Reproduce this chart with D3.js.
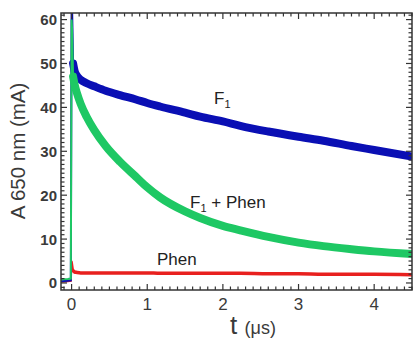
<!DOCTYPE html>
<html>
<head>
<meta charset="utf-8">
<script src="https://cdn.jsdelivr.net/npm/d3@7"></script>
<style>
  body { margin: 0; background: #fff; }
  text { font-family: "Liberation Sans", Arial, sans-serif; }
</style>
</head>
<body>
<svg id="chart" width="416" height="339"></svg>
<script>
var width = 416;
var height = 339;

// time axis (µs) shared by all traces
var times = [-0.14, -0.05, -0.01, 0.0, 0.006, 0.02, 0.04, 0.07, 0.12, 0.2, 0.3, 0.45, 0.64, 0.85,
             1.0, 1.17, 1.5, 1.7, 2.0, 2.23, 2.6, 3.0, 3.33, 3.7, 4.0, 4.5];
var f1 = [0.4, 0.5, 0.6, 63, 63, 50, 48.3, 47.2, 46.3, 45.5, 44.8, 43.8, 42.8, 41.8,
          41.0, 40.2, 38.8, 37.9, 36.8, 35.8, 34.5, 33.3, 32.4, 31.2, 30.3, 28.8];
var f1Phen = [0.8, 0.9, 1.0, 60, 58, 47, 45.2, 43.3, 40.8, 37.8, 34.8, 31.2, 27.6, 24.2,
              21.8, 19.5, 16.3, 14.8, 13.0, 12.0, 10.5, 9.2, 8.4, 7.7, 7.2, 6.6];
var phen = [0.3, 0.4, 0.5, 5, 4.5, 2.8, 2.5, 2.4, 2.3, 2.3, 2.3, 2.3, 2.3, 2.3,
            2.3, 2.2, 2.2, 2.2, 2.2, 2.2, 2.1, 2.1, 2.0, 2.0, 2.0, 1.9];
// index where the thin flash spike ends and the broad noisy decay begins
var decayStart = 5;

var xTicks = [0, 1, 2, 3, 4];
var yTicks = [0, 10, 20, 30, 40, 50, 60];

var svg = d3.select("#chart");
var plotLeft = 61, plotRight = 412, plotTop = 13, plotBottom = 290;

var scaleX = d3.scaleLinear().domain([-0.14, 4.5]).range([plotLeft, plotRight]);
var scaleY = d3.scaleLinear().domain([-1.6, 61.5]).range([plotBottom, plotTop]);

svg.append("clipPath").attr("id", "plotClip")
    .append("rect")
    .attr("x", plotLeft).attr("y", plotTop)
    .attr("width", plotRight - plotLeft).attr("height", plotBottom - plotTop);

var series = [
    {values: phen, colour: "#e8201e", w: 3.5},
    {values: f1, colour: "#0a0fb4", w: 8},
    {values: f1Phen, colour: "#1ec864", w: 8}
];

var spikeLine = d3.line()
    .x(function(d) {return scaleX(d[0])})
    .y(function(d) {return scaleY(d[1])});
var decayLine = d3.line()
    .x(function(d) {return scaleX(d[0])})
    .y(function(d) {return scaleY(d[1])})
    .curve(d3.curveMonotoneX);

var plot = svg.append("g").attr("clip-path", "url(#plotClip)");
series.forEach(function(s) {
    var pts = times.map(function(t, i) {return [t, s.values[i]]});
    plot.append("path")
        .datum(pts.slice(0, decayStart + 1))
        .attr("d", spikeLine)
        .attr("fill", "none")
        .attr("stroke", s.colour)
        .attr("stroke-width", 2);
    plot.append("path")
        .datum(pts.slice(decayStart))
        .attr("d", decayLine)
        .attr("fill", "none")
        .attr("stroke", s.colour)
        .attr("stroke-width", s.w)
        .attr("stroke-linecap", "round");
});

// ticks: minor every 0.1 on x, every 1 on y, mirrored on all four sides
var frameColour = "#333";
var axisG = svg.append("g").attr("stroke", frameColour).attr("stroke-width", 1.2);
d3.range(-1, 46).forEach(function(k) {
    var v = k / 10;
    var major = (k % 10 === 0);
    var len = major ? 6 : 3.5;
    var x = scaleX(v);
    axisG.append("line").attr("x1", x).attr("x2", x).attr("y1", plotBottom).attr("y2", plotBottom - len);
    axisG.append("line").attr("x1", x).attr("x2", x).attr("y1", plotTop).attr("y2", plotTop + len);
});
d3.range(-1, 62).forEach(function(v) {
    var major = (v % 10 === 0);
    var len = major ? 6 : 3.5;
    var y = scaleY(v);
    axisG.append("line").attr("x1", plotLeft).attr("x2", plotLeft + len).attr("y1", y).attr("y2", y);
    axisG.append("line").attr("x1", plotRight).attr("x2", plotRight - len).attr("y1", y).attr("y2", y);
});

svg.append("rect")
    .attr("x", plotLeft).attr("y", plotTop)
    .attr("width", plotRight - plotLeft).attr("height", plotBottom - plotTop)
    .attr("fill", "none")
    .attr("stroke", frameColour)
    .attr("stroke-width", 1.5);

// tick labels
svg.selectAll(".xlab").data(xTicks).enter().append("text")
    .attr("class", "xlab")
    .attr("x", function(d) {return scaleX(d)})
    .attr("y", 310)
    .attr("text-anchor", "middle")
    .attr("font-size", 17)
    .attr("fill", "#3a3a3a")
    .text(function(d) {return d});

svg.selectAll(".ylab").data(yTicks).enter().append("text")
    .attr("class", "ylab")
    .attr("x", 57)
    .attr("y", function(d) {return scaleY(d) + 5.5})
    .attr("text-anchor", "end")
    .attr("font-size", 15)
    .attr("font-weight", "bold")
    .attr("fill", "#3a3a3a")
    .text(function(d) {return d});

// axis titles
svg.append("text")
    .attr("transform", "translate(25,151) rotate(-90)")
    .attr("text-anchor", "middle")
    .attr("font-size", 20.5)
    .attr("fill", "#3a3a3a")
    .text("A 650 nm (mA)");

var xt = svg.append("text")
    .attr("x", 253).attr("y", 334)
    .attr("text-anchor", "middle")
    .attr("fill", "#3a3a3a");
xt.append("tspan").attr("font-size", 26).text("t ");
xt.append("tspan").attr("font-size", 18).text("(μs)");

// curve labels
function addLabel(x, y, main, sub, rest) {
    var t = svg.append("text").attr("x", x).attr("y", y)
        .attr("font-size", 17).attr("fill", "#222");
    t.append("tspan").text(main);
    if (sub) {
        t.append("tspan").attr("font-size", 11).attr("dy", 4).text(sub);
        if (rest) t.append("tspan").attr("dy", -4).text(rest);
    }
}
addLabel(214, 104, "F", "1", null);
addLabel(190, 208, "F", "1", " + Phen");
addLabel(157, 265, "Phen", null, null);
</script>
</body>
</html>
